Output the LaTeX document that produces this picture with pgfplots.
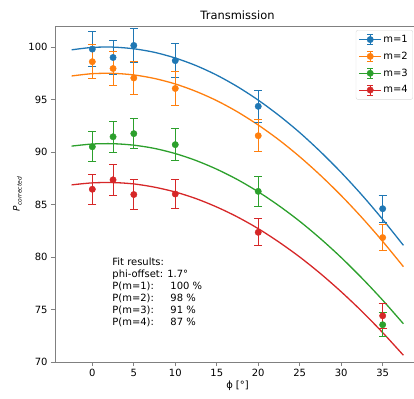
\documentclass[border=0pt]{standalone}
\usepackage{fontspec}
\setmainfont{DejaVu Sans}
\usepackage{pgfplots}
\pgfplotsset{compat=1.18}
\usetikzlibrary{calc}
\definecolor{c1}{HTML}{1F77B4}
\definecolor{c2}{HTML}{FF7F0E}
\definecolor{c3}{HTML}{2CA02C}
\definecolor{c4}{HTML}{D62728}

\pgfplotstableread{
x y e
0 99.8 1.65
2.5 99.0 1.65
5 100.15 1.6
10 98.7 1.65
20 94.35 1.55
35 84.6 1.3
}\mone
\pgfplotstableread{
x y e
0 98.6 1.6
2.5 97.95 1.6
5 97.05 1.55
10 96.05 1.6
20 91.55 1.5
35 81.85 1.25
}\mtwo
\pgfplotstableread{
x y e
0 90.5 1.45
2.5 91.45 1.5
5 91.75 1.45
10 90.7 1.5
20 86.25 1.45
35 73.55 1.15
}\mthree
\pgfplotstableread{
x y e
0 86.45 1.45
2.5 87.35 1.45
5 85.95 1.4
10 86.0 1.4
20 82.35 1.3
35 74.4 1.2
}\mfour

\pgfplotsset{
  ebar/.style={#1, only marks, mark=*, mark size=3.2bp, mark options={fill=#1, draw=#1},
    error bars/.cd, y dir=both, y explicit,
    error bar style={line width=1bp, #1},
    error mark options={#1, rotate=90, mark size=4bp, line width=1bp}},
  fitline/.style={#1, line width=1.3bp, smooth, no marks, forget plot},
}

\begin{document}
\begin{tikzpicture}
\begin{axis}[
  scale only axis, width=365bp, height=336bp,
  xmin=-4.5, xmax=39.5, ymin=70, ymax=102,
  xtick={0,5,...,35}, ytick={70,75,...,100},
  tick pos=left, tick align=outside, major tick length=4bp,
  tick style={gray, line width=0.8bp},
  axis line style={gray, line width=0.8bp},
  ticklabel style={font=\fontsize{10}{12}\selectfont},
  /pgf/number format/assume math mode=true,
  title={Transmission},
  title style={font=\fontsize{11.5}{13}\selectfont, yshift=-3bp},
  xlabel={ϕ [°]},
  xlabel style={font=\fontsize{10}{12}\selectfont, yshift=3bp},
  ylabel={\textit{P}\raisebox{-2bp}{\fontsize{6}{7}\selectfont\textit{corrected}}},
  ylabel style={font=\fontsize{9}{10}\selectfont, yshift=0bp},
  legend style={at={(1,1)}, anchor=north east, xshift=-7bp, yshift=-4bp,
    draw=gray!30, rounded corners=2bp, fill=white,
    font=\fontsize{10}{12}\selectfont, row sep=4bp, inner sep=3bp},
  legend cell align=left,
  legend image code/.code={
    \path (0bp,0bp) -- (22bp,0bp);
    \draw[#1, solid, line width=1bp] (11bp,-5bp) -- (11bp,5bp)
      (8bp,-5bp) -- (14bp,-5bp) (8bp,5bp) -- (14bp,5bp);
    \fill[#1] (11bp,0) circle (3.2bp);
  },
]
\addplot[fitline=c1] coordinates {(-2.5,99.73) (0,99.96) (2.5,99.99) (5,99.83) (7.5,99.49) (10,98.95) (12.5,98.23) (15,97.32) (17.5,96.22) (20,94.94) (22.5,93.48) (25,91.85) (27.5,90.03) (30,88.05) (32.5,85.90) (35,83.58) (37.5,81.11)};
\addplot[fitline=c2] coordinates {(-2.5,97.24) (0,97.46) (2.5,97.49) (5,97.34) (7.5,97.00) (10,96.48) (12.5,95.77) (15,94.89) (17.5,93.82) (20,92.57) (22.5,91.15) (25,89.55) (27.5,87.78) (30,85.85) (32.5,83.75) (35,81.49) (37.5,79.08)};
\addplot[fitline=c3] coordinates {(-2.5,90.56) (0,90.76) (2.5,90.79) (5,90.65) (7.5,90.34) (10,89.85) (12.5,89.19) (15,88.36) (17.5,87.37) (20,86.21) (22.5,84.88) (25,83.40) (27.5,81.75) (30,79.95) (32.5,77.99) (35,75.89) (37.5,73.64)};
\addplot[fitline=c4] coordinates {(-2.5,86.87) (0,87.06) (2.5,87.09) (5,86.96) (7.5,86.65) (10,86.19) (12.5,85.56) (15,84.76) (17.5,83.81) (20,82.70) (22.5,81.42) (25,80.00) (27.5,78.42) (30,76.69) (32.5,74.82) (35,72.80) (37.5,70.64)};
\addplot[ebar=c1] table[x=x, y=y, y error=e] {\mone};
\addlegendentry{m=1}
\addplot[ebar=c2] table[x=x, y=y, y error=e] {\mtwo};
\addlegendentry{m=2}
\addplot[ebar=c3] table[x=x, y=y, y error=e] {\mthree};
\addlegendentry{m=3}
\addplot[ebar=c4] table[x=x, y=y, y error=e] {\mfour};
\addlegendentry{m=4}
\node[anchor=north west, inner sep=0pt, align=left, font=\fontsize{10}{12}\selectfont] at (axis cs:2.4,79.95) {Fit results:\\phi-offset: 1.7°\\\makebox[58bp][l]{P(m=1):}100 \%\\\makebox[58bp][l]{P(m=2):}98 \%\\\makebox[58bp][l]{P(m=3):}91 \%\\\makebox[58bp][l]{P(m=4):}87 \%};
\end{axis}
\pgfresetboundingbox
\path[use as bounding box] ($(current axis.south west)+(-55bp,-37bp)$) rectangle ++(414bp,399bp);
\end{tikzpicture}
\end{document}
